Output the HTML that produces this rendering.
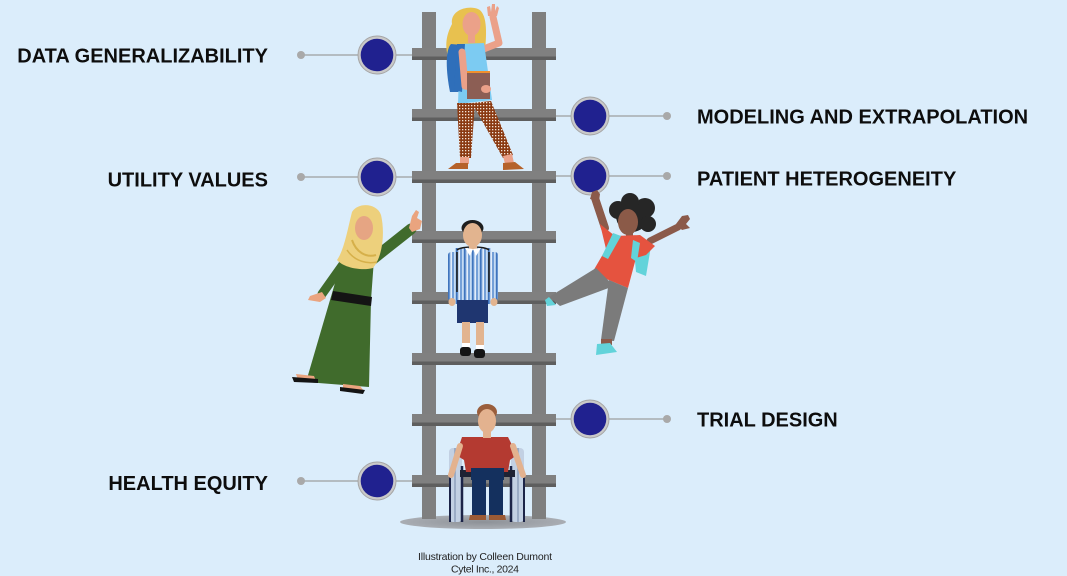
<!DOCTYPE html>
<html>
<head>
<meta charset="utf-8">
<style>
html,body{margin:0;padding:0;background:#dbedfb;}
svg{display:block;}
.lbl{font-family:"Liberation Sans",Arial,sans-serif;font-weight:bold;font-size:20px;fill:#0d0d0d;}
.cap{font-family:"Liberation Sans",Arial,sans-serif;font-size:10.5px;fill:#222;}
</style>
</head>
<body>
<svg width="1067" height="576" viewBox="0 0 1067 576" xmlns="http://www.w3.org/2000/svg">
<defs>
  <pattern id="dots" width="3" height="3" patternUnits="userSpaceOnUse">
    <rect width="3" height="3" fill="#8a3a12"/>
    <rect x="0" y="0" width="1.3" height="1.3" fill="#f3e6dc"/>
  </pattern>
  <pattern id="stripes" width="8" height="10" patternUnits="userSpaceOnUse">
    <rect width="8" height="10" fill="#8fb4e2"/>
    <rect x="0" width="1.5" height="10" fill="#3f74bd"/>
    <rect x="2.5" width="1.5" height="10" fill="#e3edf9"/>
    <rect x="4.5" width="1" height="10" fill="#5a8ccd"/>
    <rect x="6" width="1.5" height="10" fill="#c6dbf3"/>
  </pattern>
  <radialGradient id="shadow" cx="0.5" cy="0.5" r="0.5">
    <stop offset="0" stop-color="#8d9197"/>
    <stop offset="1" stop-color="#a9adb3"/>
  </radialGradient>
</defs>

<rect width="1067" height="576" fill="#dbedfb"/>

<!-- connector lines -->
<g stroke="#a8abae" stroke-width="1.6">
  <line x1="301" y1="55" x2="412" y2="55"/>
  <line x1="301" y1="177" x2="412" y2="177"/>
  <line x1="301" y1="481" x2="412" y2="481"/>
  <line x1="556" y1="116" x2="667" y2="116"/>
  <line x1="556" y1="176" x2="667" y2="176"/>
  <line x1="556" y1="419" x2="667" y2="419"/>
</g>
<g fill="#a9a9a9">
  <circle cx="301" cy="55" r="4"/>
  <circle cx="301" cy="177" r="4"/>
  <circle cx="301" cy="481" r="4"/>
  <circle cx="667" cy="116" r="4"/>
  <circle cx="667" cy="176" r="4"/>
  <circle cx="667" cy="419" r="4"/>
</g>

<!-- ground shadow -->
<ellipse cx="483" cy="522" rx="83" ry="7" fill="url(#shadow)"/>

<!-- ladder rails -->
<rect x="422" y="12" width="14" height="507" fill="#7f7f7f"/>
<rect x="532" y="12" width="14" height="507" fill="#7f7f7f"/>
<!-- rungs -->
<g>
  <g transform="translate(0,48)"><rect x="412" y="0" width="144" height="12" fill="#808080"/><rect x="412" y="8.5" width="144" height="3.5" fill="#5e5e5e"/></g>
  <g transform="translate(0,109)"><rect x="412" y="0" width="144" height="12" fill="#808080"/><rect x="412" y="8.5" width="144" height="3.5" fill="#5e5e5e"/></g>
  <g transform="translate(0,171)"><rect x="412" y="0" width="144" height="12" fill="#808080"/><rect x="412" y="8.5" width="144" height="3.5" fill="#5e5e5e"/></g>
  <g transform="translate(0,231)"><rect x="412" y="0" width="144" height="12" fill="#808080"/><rect x="412" y="8.5" width="144" height="3.5" fill="#5e5e5e"/></g>
  <g transform="translate(0,292)"><rect x="412" y="0" width="144" height="12" fill="#808080"/><rect x="412" y="8.5" width="144" height="3.5" fill="#5e5e5e"/></g>
  <g transform="translate(0,353)"><rect x="412" y="0" width="144" height="12" fill="#808080"/><rect x="412" y="8.5" width="144" height="3.5" fill="#5e5e5e"/></g>
  <g transform="translate(0,414)"><rect x="412" y="0" width="144" height="12" fill="#808080"/><rect x="412" y="8.5" width="144" height="3.5" fill="#5e5e5e"/></g>
  <g transform="translate(0,475)"><rect x="412" y="0" width="144" height="12" fill="#808080"/><rect x="412" y="8.5" width="144" height="3.5" fill="#5e5e5e"/></g>
</g>

<!-- ===== Top girl ===== -->
<g>
  <path d="M452,24 C450,10 468,5 478,9 C487,13 487,32 485,50 L468,52 L448,57 C444,42 448,32 452,24 Z" fill="#e8c14f"/>
  <path d="M451,44 C445,50 446,72 450,92 L459,92 L462,45 Z" fill="#2f6fba"/>
  <polyline points="481,50 499,43 493,17" fill="none" stroke="#eba189" stroke-width="7" stroke-linecap="round" stroke-linejoin="round"/>
  <path d="M488,16 L487,7 L490,6 L491,12 L492,4 L495,4 L495,11 L497,6 L499,8 L497,16 Z" fill="#eba189"/>
  <path d="M460,44 L484,43 L492,100 L458,104 Z" fill="#7ccbf2"/>
  <path d="M457,44 L465,44 L462,92 L454,90 Z" fill="#2f6fba"/>
  <polyline points="462,52 465,86 486,89" fill="none" stroke="#eba189" stroke-width="7" stroke-linecap="round" stroke-linejoin="round"/>
  <rect x="467" y="72" width="23" height="27" fill="#8c5e54"/>
  <rect x="467" y="71" width="23" height="2" fill="#f0902e"/>
  <ellipse cx="486" cy="89" rx="5" ry="4" fill="#eba189"/>
  <rect x="468" y="33" width="7" height="10" fill="#eba189"/>
  <ellipse cx="471.5" cy="24" rx="9" ry="12" fill="#eba189"/>
  <path d="M457,103 L475,103 L471,158 L460,158 Z" fill="url(#dots)"/>
  <path d="M472,103 L491,101 L513,155 L503,158 Z" fill="url(#dots)"/>
  <rect x="460" y="157" width="9" height="7" fill="#eba189"/>
  <path d="M503,156 L512,154 L514,163 L505,164 Z" fill="#eba189"/>
  <path d="M448,169 L468,169 L468,163 L456,163 Z" fill="#b5622a"/>
  <path d="M503,163 L515,162 L524,169 L503,170 Z" fill="#b5622a"/>
</g>

<!-- ===== Hijab woman ===== -->
<g>
  <line x1="368" y1="263" x2="411" y2="229" stroke="#406b2c" stroke-width="11" stroke-linecap="round"/>
  <path d="M409,228 L412,216 L416,210 L419,212 L417,218 L422,221 L420,229 L412,232 Z" fill="#eaa47f"/>
  <line x1="344" y1="263" x2="322" y2="294" stroke="#406b2c" stroke-width="9" stroke-linecap="round"/>
  <path d="M322,292 L310,296 L308,300 L320,302 L326,298 Z" fill="#eaa47f"/>
  <path d="M343,256 L374,259 L371,300 L369,387 L306,382 L330,300 Z" fill="#406b2c"/>
  <path d="M333,291 L372,297 L371,306 L331,300 Z" fill="#141414"/>
  <path d="M352,212 C358,202 377,203 381,215 C385,232 383,256 373,268 C362,271 344,268 337,260 C344,250 347,232 352,212 Z" fill="#edd07c"/>
  <path d="M352,240 C356,252 366,258 376,255" fill="none" stroke="#d6b04a" stroke-width="2"/>
  <path d="M347,250 C355,262 368,264 377,262" fill="none" stroke="#d6b04a" stroke-width="1.5"/>
  <ellipse cx="364" cy="228" rx="9" ry="12" fill="#e6a583"/>
  <path d="M296,374 L314,376 L316,381 L298,380 Z" fill="#eaa47f"/>
  <path d="M292,377 L318,379 L318,383 L294,382 Z" fill="#141414"/>
  <path d="M343,384 L360,386 L364,391 L343,389 Z" fill="#eaa47f"/>
  <path d="M340,387 L365,390 L363,394 L340,391 Z" fill="#141414"/>
</g>

<!-- ===== Right girl ===== -->
<g>
  <line x1="605" y1="228" x2="595" y2="198" stroke="#8b5a4a" stroke-width="8" stroke-linecap="round"/>
  <line x1="650" y1="241" x2="678" y2="227" stroke="#8b5a4a" stroke-width="7" stroke-linecap="round"/>
  <path d="M676,224 L682,216 L688,215 L690,219 L686,224 L690,228 L682,230 Z" fill="#8b5a4a"/>
  <path d="M633,240 L651,246 L646,276 L636,272 Z" fill="#62d3da"/>
  <g fill="#262626">
    <circle cx="632" cy="216" r="16"/>
    <circle cx="618" cy="210" r="9"/>
    <circle cx="645" cy="208" r="10"/>
    <circle cx="630" cy="202" r="9"/>
    <circle cx="648" cy="224" r="8"/>
  </g>
  <rect x="626" y="230" width="7" height="9" fill="#8b5a4a"/>
  <ellipse cx="628" cy="222" rx="10" ry="13" fill="#8b5a48"/>
  <path d="M600,224 L615,236 L640,235 L655,246 L646,255 L636,258 L628,288 L592,273 L606,249 Z" fill="#e5533f"/>
  <path d="M613,233 L621,236 L608,259 L602,256 Z" fill="#62d3da"/>
  <path d="M633,240 L640,243 L637,262 L631,258 Z" fill="#62d3da"/>
  <path d="M596,268 L614,286 L560,306 L549,297 Z" fill="#7b7b7b"/>
  <path d="M609,280 L628,288 L614,341 L601,340 Z" fill="#7b7b7b"/>
  <path d="M549,297 L545,300 L547,306 L556,305 Z" fill="#62d3da"/>
  <rect x="601" y="339" width="11" height="6" fill="#8b5a4a"/>
  <path d="M597,344 L610,343 L617,352 L596,355 Z" fill="#62d3da"/>
</g>

<!-- ===== Boy ===== -->
<g>
  <rect x="455" y="248" width="36" height="56" fill="url(#stripes)"/>
  <rect x="448" y="252" width="9" height="49" rx="3" fill="url(#stripes)"/>
  <rect x="489" y="252" width="9" height="49" rx="3" fill="url(#stripes)"/>
  <line x1="457" y1="252" x2="457" y2="292" stroke="#1a1a1a" stroke-width="1.6"/>
  <line x1="489" y1="252" x2="489" y2="292" stroke="#1a1a1a" stroke-width="1.6"/>
  <path d="M457,250 C462,246 484,246 489,250" fill="none" stroke="#1a1a1a" stroke-width="1.6"/>
  <rect x="469" y="242" width="8" height="8" fill="#e2b48f"/>
  <path d="M465,248 L473,249 L470,256 Z M481,248 L473,249 L476,256 Z" fill="#ffffff"/>
  <ellipse cx="472.5" cy="228" rx="11" ry="8" fill="#1e1e1e"/>
  <ellipse cx="472.5" cy="235" rx="9.5" ry="12" fill="#e2b48f"/>
  <rect x="457" y="300" width="31" height="23" fill="#1f3670"/>
  <ellipse cx="452" cy="302" rx="3.5" ry="4" fill="#e2b48f"/>
  <ellipse cx="494" cy="302" rx="3.5" ry="4" fill="#e2b48f"/>
  <rect x="462" y="322" width="8" height="24" fill="#e2b48f"/>
  <rect x="476" y="322" width="8" height="24" fill="#e2b48f"/>
  <rect x="462" y="343" width="8" height="5" fill="#ffffff"/>
  <rect x="476" y="345" width="8" height="5" fill="#ffffff"/>
  <rect x="460" y="347" width="11" height="9" rx="3" fill="#141414"/>
  <rect x="474" y="349" width="11" height="9" rx="3" fill="#141414"/>
</g>

<!-- ===== Wheelchair man ===== -->
<g>
  <rect x="466" y="440" width="42" height="32" fill="#2d3a55"/>
  <rect x="449" y="448" width="13" height="74" rx="4" fill="#c2d0e3"/>
  <rect x="511" y="448" width="13" height="74" rx="4" fill="#c2d0e3"/>
  <line x1="455" y1="448" x2="455" y2="522" stroke="#8ea0bd" stroke-width="1.5"/>
  <line x1="518" y1="448" x2="518" y2="522" stroke="#8ea0bd" stroke-width="1.5"/>
  <line x1="450" y1="475" x2="450" y2="522" stroke="#1c2448" stroke-width="2"/>
  <line x1="524" y1="475" x2="524" y2="522" stroke="#1c2448" stroke-width="2"/>
  <line x1="462" y1="466" x2="462" y2="522" stroke="#1c2448" stroke-width="2.5"/>
  <line x1="511" y1="466" x2="511" y2="522" stroke="#1c2448" stroke-width="2.5"/>
  <rect x="460" y="470" width="55" height="7" fill="#1e2233"/>
  <path d="M462,437 L508,437 L517,455 L510,460 L508,472 L466,472 L464,460 L456,455 Z" fill="#b43a31"/>
  <line x1="460" y1="446" x2="451" y2="475" stroke="#e3b28f" stroke-width="6" stroke-linecap="round"/>
  <line x1="513" y1="446" x2="523" y2="475" stroke="#e3b28f" stroke-width="6" stroke-linecap="round"/>
  <rect x="483" y="428" width="8" height="10" fill="#e3b28f"/>
  <ellipse cx="487" cy="412" rx="10" ry="8" fill="#9a5e3c"/>
  <ellipse cx="487" cy="421" rx="9" ry="12" fill="#e3b28f"/>
  <rect x="471" y="468" width="33" height="12" fill="#14305e"/>
  <rect x="472" y="478" width="14" height="38" fill="#14305e"/>
  <rect x="489" y="478" width="14" height="38" fill="#14305e"/>
  <path d="M470,515 L486,515 L486,520 L469,520 Z" fill="#9a5a35"/>
  <path d="M489,515 L505,515 L506,520 L489,520 Z" fill="#9a5a35"/>
</g>

<!-- circles -->
<g>
  <circle cx="377" cy="55" r="19" fill="#c9c9c9" stroke="#a5a5a5" stroke-width="1"/>
  <circle cx="377" cy="55" r="16.3" fill="#20218f"/>
  <circle cx="377" cy="177" r="19" fill="#c9c9c9" stroke="#a5a5a5" stroke-width="1"/>
  <circle cx="377" cy="177" r="16.3" fill="#20218f"/>
  <circle cx="377" cy="481" r="19" fill="#c9c9c9" stroke="#a5a5a5" stroke-width="1"/>
  <circle cx="377" cy="481" r="16.3" fill="#20218f"/>
  <circle cx="590" cy="116" r="19" fill="#c9c9c9" stroke="#a5a5a5" stroke-width="1"/>
  <circle cx="590" cy="116" r="16.3" fill="#20218f"/>
  <circle cx="590" cy="176" r="19" fill="#c9c9c9" stroke="#a5a5a5" stroke-width="1"/>
  <circle cx="590" cy="176" r="16.3" fill="#20218f"/>
  <circle cx="590" cy="419" r="19" fill="#c9c9c9" stroke="#a5a5a5" stroke-width="1"/>
  <circle cx="590" cy="419" r="16.3" fill="#20218f"/>
</g>
<!-- hand over circle bottom -->
<path d="M590,199 L592,192 L597,190 L600,194 L599,201 Z" fill="#8b5a4a"/>

<!-- labels -->
<text class="lbl" x="268" y="62.5" text-anchor="end">DATA GENERALIZABILITY</text>
<text class="lbl" x="268" y="186.5" text-anchor="end">UTILITY VALUES</text>
<text class="lbl" x="268" y="490" text-anchor="end">HEALTH EQUITY</text>
<text class="lbl" x="697" y="123.3">MODELING AND EXTRAPOLATION</text>
<text class="lbl" x="697" y="185.5">PATIENT HETEROGENEITY</text>
<text class="lbl" x="697" y="426.5">TRIAL DESIGN</text>

<!-- caption -->
<text class="cap" x="418" y="560" textLength="134" lengthAdjust="spacing">Illustration by Colleen Dumont</text>
<text class="cap" x="451" y="572.5" textLength="68" lengthAdjust="spacing">Cytel Inc., 2024</text>
</svg>
</body>
</html>
